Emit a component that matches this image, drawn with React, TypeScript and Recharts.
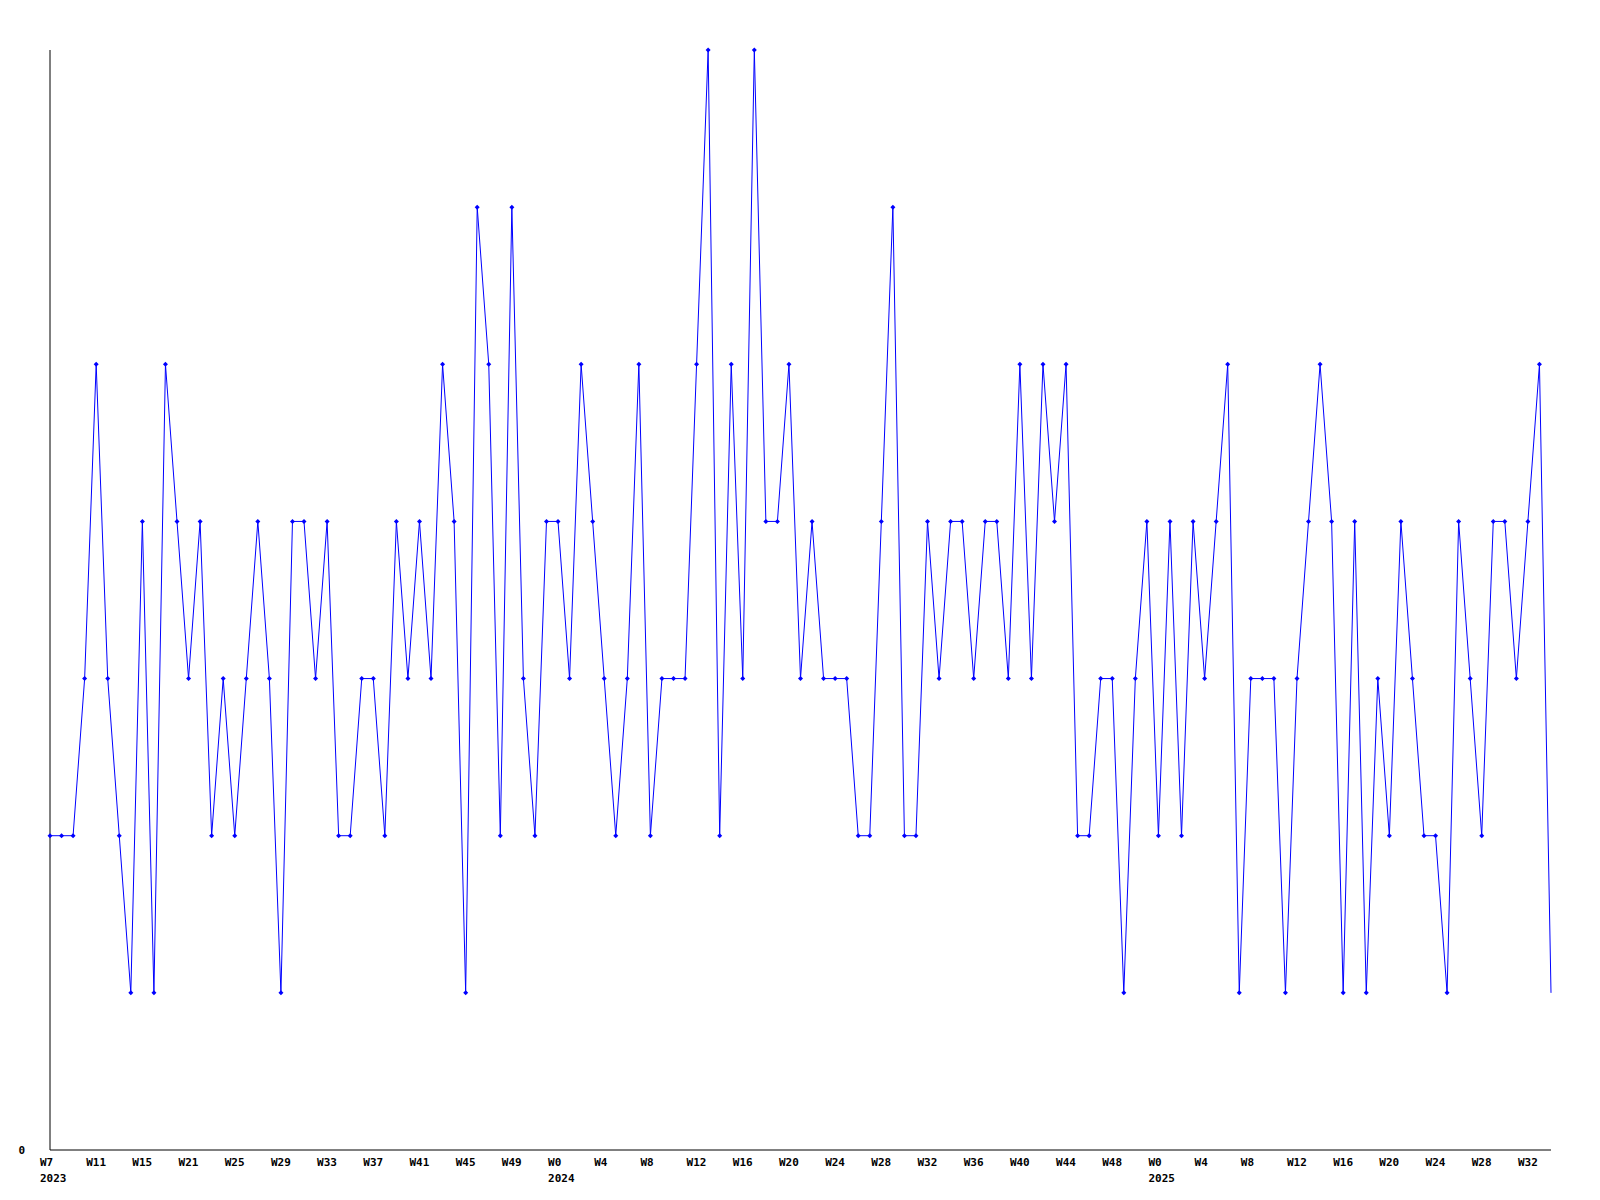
import React from 'react';
import { LineChart, Line, XAxis, YAxis } from 'recharts';

// weekly counts, 2023 W7 onwards (last week is partial, no marker)
const values = [
  2, 2, 2, 3, 5, 3, 2, 1, 4, 1,
  5, 4, 3, 4, 2, 3, 2, 3, 4, 3,
  1, 4, 4, 3, 4, 2, 2, 3, 3, 2,
  4, 3, 4, 3, 5, 4, 1, 6, 5, 2,
  6, 3, 2, 4, 4, 3, 5, 4, 3, 2,
  3, 5, 2, 3, 3, 3, 5, 7, 2, 5,
  3, 7, 4, 4, 5, 3, 4, 3, 3, 3,
  2, 2, 4, 6, 2, 2, 4, 3, 4, 4,
  3, 4, 4, 3, 5, 3, 5, 4, 5, 2,
  2, 3, 3, 1, 3, 4, 2, 4, 2, 4,
  3, 4, 5, 1, 3, 3, 3, 1, 3, 4,
  5, 4, 1, 4, 1, 3, 2, 4, 3, 2,
  2, 1, 4, 3, 2, 4, 4, 3, 4, 5,
  1,
];

// one label every 4th week
const tickLabels = [
  'W7', 'W11', 'W15', 'W21', 'W25', 'W29', 'W33', 'W37', 'W41', 'W45', 'W49',
  'W0', 'W4', 'W8', 'W12', 'W16', 'W20', 'W24', 'W28', 'W32', 'W36', 'W40', 'W44', 'W48',
  'W0', 'W4', 'W8', 'W12', 'W16', 'W20', 'W24', 'W28', 'W32',
];

const yearLabels: Record<number, string> = { 0: '2023', 11: '2024', 24: '2025' };

const data = values.map((v, i) => ({ i, v }));

const FONT = '"DejaVu Sans Mono", monospace';

const WeekTick = (props: any) => {
  const { x, y, payload } = props;
  const n = Math.round(payload.value / 4);
  const year = yearLabels[n];
  return (
    <g>
      <text x={x - 10} y={y + 16} textAnchor="start" fontFamily={FONT} fontWeight="bold" fontSize={11} fill="#000">
        {tickLabels[n]}
      </text>
      {year && (
        <text x={x - 10} y={y + 32} textAnchor="start" fontFamily={FONT} fontWeight="bold" fontSize={11} fill="#000">
          {year}
        </text>
      )}
    </g>
  );
};

const Marker = (props: any) => {
  const { cx, cy, index } = props;
  if (index === values.length - 1) return <g key={index} />;
  return (
    <path
      key={index}
      d={`M${cx},${cy - 2.5}L${cx + 2.5},${cy}L${cx},${cy + 2.5}L${cx - 2.5},${cy}Z`}
      fill="#0000ff"
    />
  );
};

export default function App() {
  return (
    <div style={{ width: 1584, height: 1184, background: '#fff' }}>
      <LineChart width={1584} height={1184} data={data} margin={{ top: 42, right: 41, bottom: 0, left: 0 }}>
        <XAxis
          dataKey="i"
          interval={3}
          tickSize={0}
          tickMargin={0}
          tickLine={false}
          stroke="#000"
          axisLine={{ stroke: '#000', strokeWidth: 1 }}
          tick={<WeekTick />}
          height={42}
        />
        <YAxis
          width={42}
          domain={[0, 7]}
          ticks={[0]}
          tickSize={0}
          tickMargin={25}
          tickLine={false}
          stroke="#000"
          axisLine={{ stroke: '#000', strokeWidth: 1 }}
          tick={{ fontFamily: FONT, fontWeight: 'bold', fontSize: 11, fill: '#000' }}
        />
        <Line
          type="linear"
          dataKey="v"
          stroke="#0000ff"
          strokeWidth={1}
          dot={<Marker />}
          activeDot={false}
          isAnimationActive={false}
        />
      </LineChart>
    </div>
  );
}
